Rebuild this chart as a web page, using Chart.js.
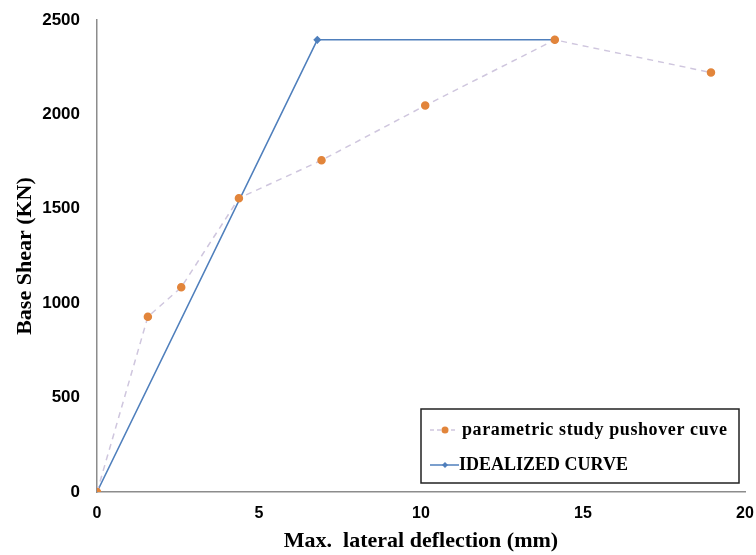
<!DOCTYPE html>
<html>
<head>
<meta charset="utf-8">
<script src="https://cdn.jsdelivr.net/npm/chart.js@4/dist/chart.umd.min.js"></script>
<style>
  html, body { margin: 0; padding: 0; background: #fff; }
  #wrap { width: 756px; height: 555px; position: relative; }
</style>
</head>
<body>
<div id="wrap"><canvas id="pushChart" width="756" height="555"></canvas></div>
<script>
// data
const pushX = [0, 1.57, 2.6, 4.38, 6.93, 10.13, 14.13, 18.95];
const pushY = [0, 928, 1084, 1556, 1757, 2047, 2395, 2222];
const idealX = [0, 6.8, 14.13];
const idealY = [0, 2395, 2395];
const xTicks = [0, 5, 10, 15, 20];
const yTicks = [0, 500, 1000, 1500, 2000, 2500];
const seriesNames = ['parametric study pushover cuve', 'IDEALIZED CURVE'];

const toPoints = (xs, ys) => xs.map((x, i) => ({ x: x, y: ys[i] }));

// legend box drawn inside the plot, like the original
const boxLegend = {
  id: 'boxLegend',
  afterDraw(chart) {
    const ctx = chart.ctx;
    const left = 421, top = 409, w = 318, h = 74;
    ctx.save();
    ctx.fillStyle = '#fff';
    ctx.fillRect(left, top, w, h);
    ctx.strokeStyle = '#222';
    ctx.lineWidth = 1.5;
    ctx.strokeRect(left, top, w, h);
    ctx.font = 'bold 18px "Liberation Serif"';
    ctx.textBaseline = 'middle';
    ctx.fillStyle = '#000';

    // row 1: dashed line + orange dot
    let y = top + 21;
    ctx.strokeStyle = '#cfc6de';
    ctx.lineWidth = 1.5;
    ctx.setLineDash([4, 3]);
    ctx.beginPath(); ctx.moveTo(430, y); ctx.lineTo(456, y); ctx.stroke();
    ctx.setLineDash([]);
    ctx.fillStyle = '#e2853b';
    ctx.beginPath(); ctx.arc(445, y, 3.5, 0, Math.PI * 2); ctx.fill();
    ctx.fillStyle = '#000';
    ctx.letterSpacing = '0.6px';
    ctx.fillText(seriesNames[0], 462, y);
    ctx.letterSpacing = '0px';

    // row 2: blue line + diamond
    y = top + 56;
    ctx.strokeStyle = '#4f7fbc';
    ctx.lineWidth = 1.5;
    ctx.beginPath(); ctx.moveTo(430, y); ctx.lineTo(459, y); ctx.stroke();
    ctx.fillStyle = '#4f7fbc';
    ctx.beginPath();
    ctx.moveTo(445, y - 3); ctx.lineTo(448, y); ctx.lineTo(445, y + 3); ctx.lineTo(442, y);
    ctx.closePath(); ctx.fill();
    ctx.fillStyle = '#000';
    ctx.fillText(seriesNames[1], 459, y);
    ctx.restore();
  }
};

new Chart(document.getElementById('pushChart'), {
  type: 'scatter',
  data: {
    datasets: [
      {
        label: seriesNames[0],
        data: toPoints(pushX, pushY),
        showLine: true,
        borderColor: '#cfc6de',
        borderWidth: 1.5,
        borderDash: [6, 5],
        pointBackgroundColor: '#e2853b',
        pointBorderColor: '#e2853b',
        pointRadius: 3.5,
        tension: 0
      },
      {
        label: seriesNames[1],
        data: toPoints(idealX, idealY),
        showLine: true,
        borderColor: '#4f7fbc',
        borderWidth: 1.5,
        pointStyle: 'rectRot',
        pointBackgroundColor: '#4f7fbc',
        pointBorderColor: '#4f7fbc',
        pointRadius: 3,
        tension: 0
      }
    ]
  },
  options: {
    responsive: false,
    animation: false,
    layout: { autoPadding: false, padding: { left: 0, right: 11, top: 20, bottom: 0 } },
    plugins: {
      legend: { display: false },
      tooltip: { enabled: false }
    },
    scales: {
      x: {
        type: 'linear',
        min: 0,
        max: 20,
        afterBuildTicks: s => { s.ticks = xTicks.map(v => ({ value: v })); },
        afterFit: s => { s.height = 63; s.paddingLeft = 0; s.paddingRight = 0; },
        grid: { display: false, drawTicks: true, tickLength: 6, tickColor: '#8c8c8c' },
        border: { color: '#8c8c8c', width: 1.5 },
        ticks: {
          color: '#000',
          font: { family: '"Liberation Sans"', size: 16, weight: 'bold' },
          padding: 6,
          maxRotation: 0,
          callback: v => String(v)
        },
        title: {
          display: true,
          text: 'Max.  lateral deflection (mm)',
          color: '#000',
          font: { family: '"Liberation Serif"', size: 22, weight: 'bold' },
          padding: { top: 2, bottom: 0 }
        }
      },
      y: {
        type: 'linear',
        min: 0,
        max: 2500,
        afterBuildTicks: s => { s.ticks = yTicks.map(v => ({ value: v })); },
        afterFit: s => { s.width = 97; s.paddingTop = 0; s.paddingBottom = 0; },
        grid: { display: false, drawTicks: false },
        border: { color: '#8c8c8c', width: 1.5 },
        ticks: {
          color: '#000',
          font: { family: '"Liberation Sans"', size: 17, weight: 'bold' },
          padding: 17,
          callback: v => String(v)
        },
        title: {
          display: true,
          text: 'Base Shear (KN)',
          color: '#000',
          font: { family: '"Liberation Serif"', size: 22, weight: 'bold' },
          padding: { top: 12, bottom: 0 }
        }
      }
    }
  },
  plugins: [boxLegend]
});
</script>
</body>
</html>
